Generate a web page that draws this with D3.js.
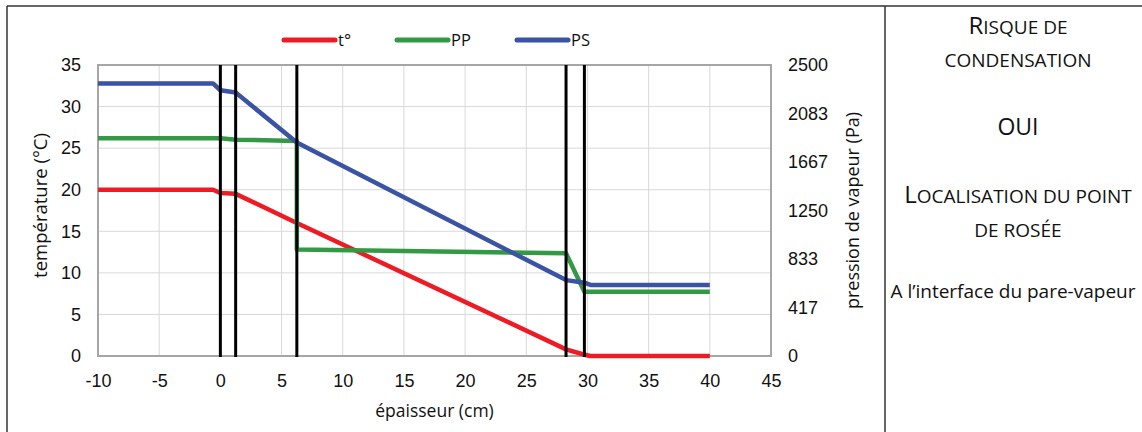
<!DOCTYPE html>
<html>
<head>
<meta charset="utf-8">
<script src="https://cdn.jsdelivr.net/npm/d3@7"></script>
<style>
  body { margin: 0; background: #fff; }
  svg { display: block; }
</style>
</head>
<body>
<div class="chart"></div>
<script>
// data
const xTicks = [-10, -5, 0, 5, 10, 15, 20, 25, 30, 35, 40, 45];
const tTicks = [0, 5, 10, 15, 20, 25, 30, 35];
const pTicks = [0, 417, 833, 1250, 1667, 2083, 2500];
const interfaces = [0, 1.25, 6.25, 28.25, 29.75];

const tX = [-10, -0.6, 0, 1.25, 6.25, 28.25, 29.75, 30.25, 40];
const tY = [20, 20, 19.6, 19.5, 16.0, 0.8, 0.15, 0, 0];

const ppX = [-10, 0, 1.25, 6.25, 6.25, 28.25, 29.75, 40];
const ppY = [1870, 1870, 1858, 1848, 915, 882, 552, 552];

const psX = [-10, -0.6, 0, 1.25, 6.25, 28.25, 29.75, 30.25, 40];
const psY = [2342, 2342, 2283, 2263, 1835, 652, 630, 611, 611];

const legend = ['t°', 'PP', 'PS'];
const colors = ['#ed1c24', '#339944', '#3a53a4'];

const W = 1142, H = 432;
const svg = d3.select('.chart').append('svg')
    .attr('width', W)
    .attr('height', H);

const x = d3.scaleLinear().domain([-10, 45]).range([98, 771]);
const yT = d3.scaleLinear().domain([0, 35]).range([356, 65]);
const yP = d3.scaleLinear().domain([0, 2500]).range([356, 65]);

// outer table frame
svg.append('line').attr('x1', 7).attr('x2', W).attr('y1', 6).attr('y2', 6)
  .attr('stroke', '#333').attr('stroke-width', 1.5);
svg.append('line').attr('x1', 7).attr('x2', 7).attr('y1', 6).attr('y2', H)
  .attr('stroke', '#333').attr('stroke-width', 1.5);
svg.append('line').attr('x1', 885).attr('x2', 885).attr('y1', 6).attr('y2', H)
  .attr('stroke', '#333').attr('stroke-width', 1.5);

// grid
svg.append('g').selectAll('line').data(xTicks).join('line')
  .attr('x1', d => x(d)).attr('x2', d => x(d))
  .attr('y1', yT(35)).attr('y2', yT(0))
  .attr('stroke', '#d9d9d9').attr('stroke-width', 1);
svg.append('g').selectAll('line').data(tTicks).join('line')
  .attr('x1', x(-10)).attr('x2', x(45))
  .attr('y1', d => yT(d)).attr('y2', d => yT(d))
  .attr('stroke', '#d9d9d9').attr('stroke-width', 1);

// plot frame
svg.append('rect')
  .attr('x', x(-10)).attr('y', yT(35))
  .attr('width', x(45) - x(-10)).attr('height', yT(0) - yT(35))
  .attr('fill', 'none').attr('stroke', '#a6a6a6').attr('stroke-width', 2);

// axes (text only, Excel style)
const tickFont = 'Liberation Sans, Arial, sans-serif';
const xAxis = d3.axisBottom(x).tickValues(xTicks).tickSize(0).tickPadding(18)
  .tickFormat(d => String(d));
svg.append('g').attr('transform', `translate(0,${yT(0)})`).call(xAxis)
  .call(g => g.select('.domain').remove())
  .selectAll('text').attr('font-family', tickFont)
  .attr('font-size', 18).attr('fill', '#111');

const yAxisL = d3.axisLeft(yT).tickValues(tTicks).tickSize(0).tickPadding(17)
  .tickFormat(d => String(d));
svg.append('g').attr('transform', `translate(${x(-10)},0)`).call(yAxisL)
  .call(g => g.select('.domain').remove())
  .selectAll('text').attr('font-family', tickFont)
  .attr('font-size', 18).attr('fill', '#111');

const yAxisR = d3.axisRight(yP).tickValues(pTicks).tickSize(0).tickPadding(17)
  .tickFormat(d => String(d));
svg.append('g').attr('transform', `translate(${x(45)},0)`).call(yAxisR)
  .call(g => g.select('.domain').remove())
  .selectAll('text').attr('font-family', tickFont)
  .attr('font-size', 18).attr('fill', '#111');

// axis titles
svg.append('text').attr('x', (x(-10) + x(45)) / 2).attr('y', 417)
  .attr('text-anchor', 'middle').attr('font-family', 'Open Sans, sans-serif')
  .attr('font-size', 17.5).attr('fill', '#111').text('épaisseur (cm)');
svg.append('text').attr('transform', `translate(47,${(yT(0) + yT(35)) / 2 - 5}) rotate(-90)`)
  .attr('text-anchor', 'middle').attr('font-family', 'Open Sans, sans-serif')
  .attr('font-size', 18.5).attr('fill', '#111').text('température (°C)');
svg.append('text').attr('transform', `translate(859,${(yT(0) + yT(35)) / 2}) rotate(-90)`)
  .attr('text-anchor', 'middle').attr('font-family', 'Open Sans, sans-serif')
  .attr('font-size', 18).attr('fill', '#111').text('pression de vapeur (Pa)');

// series
const lineT = d3.line().x(d => x(d[0])).y(d => yT(d[1]));
const lineP = d3.line().x(d => x(d[0])).y(d => yP(d[1]));

svg.append('path').datum(d3.zip(tX, tY)).attr('d', lineT)
  .attr('fill', 'none').attr('stroke', colors[0]).attr('stroke-width', 4.5)
  .attr('stroke-linejoin', 'round');
svg.append('path').datum(d3.zip(ppX, ppY)).attr('d', lineP)
  .attr('fill', 'none').attr('stroke', colors[1]).attr('stroke-width', 4.5)
  .attr('stroke-linejoin', 'round');
svg.append('path').datum(d3.zip(psX, psY)).attr('d', lineP)
  .attr('fill', 'none').attr('stroke', colors[2]).attr('stroke-width', 4.5)
  .attr('stroke-linejoin', 'round');

// layer interfaces
svg.append('g').selectAll('line').data(interfaces).join('line')
  .attr('x1', d => x(d)).attr('x2', d => x(d))
  .attr('y1', yT(35)).attr('y2', yT(0) + 1)
  .attr('stroke', '#000').attr('stroke-width', 3);

// legend
const legX = [284, 397, 517];
const leg = svg.append('g').selectAll('g').data(legend).join('g')
  .attr('transform', (d, i) => `translate(${legX[i]},40)`);
leg.append('line').attr('x1', 0).attr('x2', 51).attr('y1', 0).attr('y2', 0)
  .attr('stroke', (d, i) => colors[i]).attr('stroke-width', 5)
  .attr('stroke-linecap', 'round');
leg.append('text').attr('x', 54).attr('y', 6)
  .attr('font-family', 'Open Sans, sans-serif').attr('font-size', 16.5)
  .attr('fill', '#111').text(d => d);

// right panel: small caps drawn as a big first letter + smaller capitals
const panel = [
  { big: 'R', rest: 'ISQUE DE', y: 34 },
  { big: '', rest: 'CONDENSATION', y: 67 },
  { big: 'OUI', rest: '', y: 135 },
  { big: 'L', rest: 'OCALISATION DU POINT', y: 203 },
  { big: '', rest: 'DE ROSÉE', y: 237 }
];
const cx = 1018;
const pt = svg.append('g').selectAll('text').data(panel).join('text')
  .attr('x', cx).attr('y', d => d.y)
  .attr('text-anchor', 'middle')
  .attr('font-family', 'Open Sans, sans-serif')
  .attr('fill', '#111');
pt.append('tspan').attr('font-size', d => d.big === 'OUI' ? 23 : 24).text(d => d.big);
pt.append('tspan').attr('font-size', 19).text(d => d.rest);

svg.append('text').attr('x', 1013).attr('y', 298)
  .attr('text-anchor', 'middle')
  .attr('font-family', 'Open Sans, sans-serif')
  .attr('font-size', 19).attr('fill', '#111')
  .text('A l’interface du pare-vapeur');
</script>
</body>
</html>
